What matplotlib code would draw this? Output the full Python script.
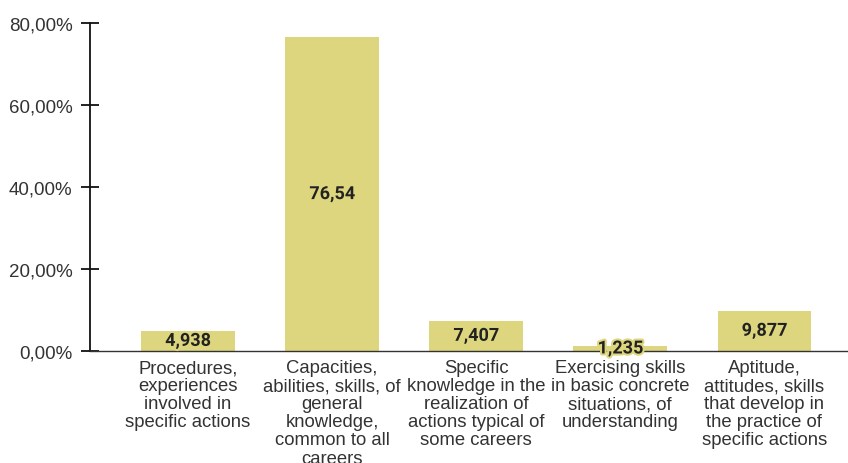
import matplotlib
matplotlib.use("Agg")
import matplotlib.pyplot as plt
import matplotlib.patheffects as pe
from matplotlib.ticker import FuncFormatter

CATEGORIES = [
    "Procedures,\nexperiences\ninvolved in\nspecific actions",
    "Capacities,\nabilities, skills, of\ngeneral\nknowledge,\ncommon to all\ncareers",
    "Specific\nknowledge in the\nrealization of\nactions typical of\nsome careers",
    "Exercising skills\nin basic concrete\nsituations, of\nunderstanding",
    "Aptitude,\nattitudes, skills\nthat develop in\nthe practice of\nspecific actions",
]
VALUES = [4.938, 76.54, 7.407, 1.235, 9.877]
LABELS = ["4,938", "76,54", "7,407", "1,235", "9,877"]
YTICKS = [0, 20, 40, 60, 80]

BAR_COLOR = "#ddd67e"


def main():
    fig = plt.figure(figsize=(8.48, 4.64), dpi=100)
    ax = fig.add_axes([90 / 848, 1 - 352 / 464, 1 - 90 / 848, (352 - 24) / 464])

    x = list(range(len(VALUES)))
    ax.bar(x, VALUES, width=0.65, color=BAR_COLOR, zorder=2)

    for xi, v, lab in zip(x, VALUES, LABELS):
        ax.text(xi, v / 2, lab, ha="center", va="center", fontsize=13,
                fontweight="bold", family="Roboto", color="#222222", zorder=4,
                path_effects=[pe.withStroke(linewidth=3, foreground=BAR_COLOR)])

    ax.set_xlim(-0.68, 4.58)
    ax.set_ylim(0, 80)
    ax.set_yticks(YTICKS)
    ax.yaxis.set_major_formatter(FuncFormatter(lambda v, _: f"{v:.2f}%".replace(".", ",")))
    ax.set_xticks(x)
    ax.set_xticklabels(CATEGORIES, fontsize=13.3, family="Liberation Sans",
                       color="#333333", linespacing=1.08, va="top")

    for s in ("top", "right"):
        ax.spines[s].set_visible(False)
    ax.spines["left"].set_linewidth(1.3)
    ax.spines["left"].set_color("#111111")
    ax.spines["bottom"].set_linewidth(1.0)
    ax.spines["bottom"].set_color("#333333")
    ax.spines["bottom"].set_zorder(3)

    ax.tick_params(axis="y", direction="inout", length=13, width=1.3,
                   color="#111111", pad=6, labelsize=13.5, labelcolor="#333333")
    for t in ax.get_yticklabels():
        t.set_family("Liberation Sans")
    ax.tick_params(axis="x", length=0, pad=6)

    fig.savefig("out.png", dpi=100)


if __name__ == "__main__":
    main()
